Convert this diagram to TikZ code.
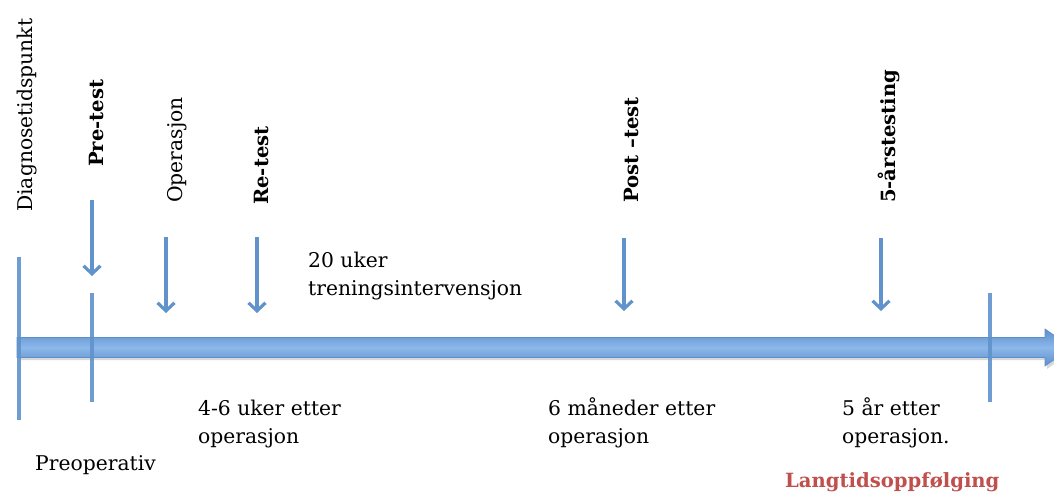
\documentclass[tikz,border=0pt]{standalone}
\usepackage{fontspec}
\setmainfont{DejaVu Serif}
\usetikzlibrary{arrows.meta}
\definecolor{tlblue}{RGB}{96,146,204}
\definecolor{barlight}{RGB}{140,184,234}
\definecolor{bardark}{RGB}{92,142,204}
\definecolor{txtred}{RGB}{192,80,77}
\tikzset{
  lbl/.style={inner sep=0pt, font=\fontsize{20.3}{27.5}\selectfont, text=black},
  vlbl/.style={lbl, rotate=90, anchor=base west},
  vlblb/.style={vlbl, font=\fontsize{19.6}{27.5}\selectfont\bfseries},
  hlbl/.style={lbl, anchor=base west, align=left},
  downarrow/.style={draw=tlblue, line width=3.2pt, -{Straight Barb[length=8pt,width=17pt]}},
  tick/.style={draw=tlblue, line width=3.5pt, opacity=0.9}
}
\begin{document}
\begin{tikzpicture}[x=1pt,y=-1pt]
\useasboundingbox (0,0) rectangle (1054,493);
\clip (0,0) rectangle (1054,493);
% main timeline bar (shadow + body)
\fill[black!15] (19,340) -- (1047,340) -- (1047,331) -- (1074,350) -- (1047,369) -- (1047,360) -- (19,360) -- cycle;
\shade[top color=bardark, bottom color=bardark, middle color=barlight, draw=bardark, line width=0.6pt]
  (17,337.5) -- (1045,337.5) -- (1045,329) -- (1072,347.5) -- (1045,366) -- (1045,357.5) -- (17,357.5) -- cycle;
% vertical ticks
\coordinate (d1) at (19,257); \coordinate (d2) at (19,420);
\coordinate (p1) at (92,293); \coordinate (p2) at (92,402);
\coordinate (e1) at (990,293); \coordinate (e2) at (990,402);
\draw[tick] (d1) -- (d2);
\draw[tick] (p1) -- (p2);
\draw[tick] (e1) -- (e2);
% down arrows
\coordinate (a1s) at (92,200); \coordinate (a1e) at (92,276);
\coordinate (a2s) at (166,237); \coordinate (a2e) at (166,313);
\coordinate (a3s) at (257,237); \coordinate (a3e) at (257,313);
\coordinate (a4s) at (624,238); \coordinate (a4e) at (624,311);
\coordinate (a5s) at (881,238); \coordinate (a5e) at (881,311);
\draw[downarrow] (a1s) -- (a1e);
\draw[downarrow] (a2s) -- (a2e);
\draw[downarrow] (a3s) -- (a3e);
\draw[downarrow] (a4s) -- (a4e);
\draw[downarrow] (a5s) -- (a5e);
% rotated labels
\node[vlbl]  (diag) at (32,212) {Diagnosetidspunkt};
\node[vlblb] (pre)  at (103,167) {Pre-test};
\node[vlbl]  (op)   at (182,203) {Operasjon};
\node[vlblb] (re)   at (268,205) {Re-test};
\node[vlblb] (post) at (638,203) {Post –test};
\node[vlblb] (five) at (895,203) {5-årstesting};
% horizontal labels (base anchor = last line's baseline)
\node[hlbl] (tren) at (308,295) {20 uker\\treningsintervensjon};
\node[hlbl] (w46)  at (198,443) {4-6 uker etter\\operasjon};
\node[hlbl] (preop) at (35,470) {Preoperativ};
\node[hlbl] (m6)   at (548,443) {6 måneder etter\\operasjon};
\node[hlbl] (y5)   at (842,443) {5 år etter\\operasjon.};
\node[hlbl, font=\fontsize{19.6}{27.5}\selectfont\bfseries, text=txtred] (lang) at (785,487) {Langtidsoppfølging};
\end{tikzpicture}
\end{document}
